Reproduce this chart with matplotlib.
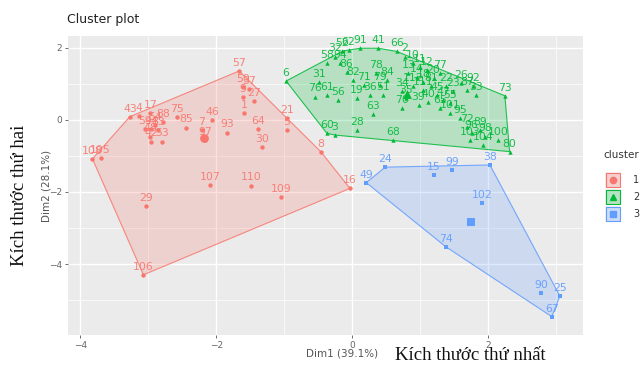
import numpy as np
import matplotlib
matplotlib.use("Agg")
import matplotlib.pyplot as plt
from matplotlib.patches import Polygon, Rectangle
from matplotlib.lines import Line2D

# ---- data: PCA coordinates (Dim1, Dim2) of each observation, by cluster ----
cluster_names = ["1", "2", "3"]
cluster_colors = ["#F8766D", "#00BA38", "#619CFF"]
cluster_markers = ["o", "^", "s"]

c1_labels = [57, 50, 37, 9, 27, 1, 64, 30, 21, 5, 8, 16, 107, 110, 109, 29, 106, 108,
             105, 43, 4, 17, 88, 59, 44, 54, 83, 48, 42, 53, 75, 85, 7, 46, 93, 97]
c1_x = [-1.66, -1.60, -1.51, -1.60, -1.44, -1.59, -1.38, -1.32, -0.96, -0.96, -0.46, -0.03,
        -2.09, -1.49, -1.05, -3.03, -3.07, -3.82, -3.70, -3.27, -3.13, -2.97, -2.78, -3.04,
        -2.96, -2.90, -2.86, -2.97, -2.96, -2.80, -2.57, -2.44, -2.21, -2.06, -1.84, -2.16]
c1_y = [1.36, 0.91, 0.86, 0.63, 0.53, 0.20, -0.24, -0.74, 0.05, -0.28, -0.88, -1.90,
        -1.80, -1.82, -2.15, -2.38, -4.30, -1.08, -1.06, 0.09, 0.11, 0.20, -0.06, -0.26,
        -0.26, -0.14, -0.28, -0.46, -0.60, -0.60, 0.09, -0.21, -0.28, 0.00, -0.35, -0.56]

c2_labels = [6, 76, 61, 56, 19, 36, 51, 58, 32, 52, 62, 91, 41, 66, 2, 10, 11, 12, 13, 14,
             18, 20, 77, 22, 23, 26, 87, 92, 33, 34, 35, 39, 40, 45, 47, 55, 65, 70, 63, 71,
             79, 82, 84, 78, 86, 94, 60, 3, 28, 68, 95, 72, 96, 89, 98, 104, 100, 80, 73, 101,
             103, 31, 111, 112, 81]
c2_x = [-0.97, -0.54, -0.37, -0.20, 0.07, 0.26, 0.46, -0.37, -0.25, -0.15, -0.05, 0.12, 0.39,
        0.66, 0.78, 0.90, 1.00, 1.10, 0.83, 0.95, 1.05, 1.20, 1.29, 1.39, 1.49, 1.61, 1.69,
        1.78, 1.83, 0.73, 0.80, 0.98, 1.12, 1.25, 1.34, 1.44, 1.29, 0.73, 0.31, 0.17, 0.41,
        0.02, 0.51, 0.36, -0.08, -0.18, -0.37, -0.25, 0.07, 0.60, 1.59, 1.69, 1.76, 1.88,
        1.96, 1.93, 2.15, 2.32, 2.25, 1.44, 1.74, -0.48, 1.05, 0.90, 1.17]
c2_y = [1.08, 0.65, 0.69, 0.56, 0.60, 0.69, 0.69, 1.57, 1.76, 1.90, 1.94, 1.99, 1.99,
        1.90, 1.76, 1.57, 1.48, 1.39, 1.30, 1.20, 1.06, 1.16, 1.30, 0.93, 0.79, 1.02, 0.83,
        0.93, 0.69, 0.79, 0.60, 0.42, 0.51, 0.69, 0.56, 0.46, 0.32, 0.32, 0.17, 0.97, 0.97,
        1.11, 1.11, 1.30, 1.34, 1.57, -0.37, -0.42, -0.28, -0.56, 0.05, -0.19, -0.37, -0.28,
        -0.46, -0.69, -0.56, -0.88, 0.67, 0.19, -0.56, 1.06, 0.83, 0.93, 0.93]

c3_labels = [49, 24, 15, 99, 38, 102, 74, 90, 25, 67]
c3_x = [0.21, 0.49, 1.20, 1.47, 2.03, 1.91, 1.38, 2.78, 3.06, 2.94]
c3_y = [-1.74, -1.31, -1.53, -1.39, -1.25, -2.31, -3.52, -4.81, -4.89, -5.46]

x_ticks = [-4, -2, 0, 2]
y_ticks = [2, 0, -2, -4]

title = "Cluster plot"
x_label = "Dim1 (39.1%)"
y_label = "Dim2 (28.1%)"
x_caption = "Kích thước thứ nhất"
y_caption = "Kích thước thứ hai"


def convex_hull(points):
    """Monotone-chain convex hull; returns vertices in order."""
    pts = sorted(set(map(tuple, points)))
    if len(pts) < 3:
        return pts

    def cross(o, a, b):
        return (a[0] - o[0]) * (b[1] - o[1]) - (a[1] - o[1]) * (b[0] - o[0])

    lower, upper = [], []
    for p in pts:
        while len(lower) >= 2 and cross(lower[-2], lower[-1], p) <= 0:
            lower.pop()
        lower.append(p)
    for p in reversed(pts):
        while len(upper) >= 2 and cross(upper[-2], upper[-1], p) <= 0:
            upper.pop()
        upper.append(p)
    return lower[:-1] + upper[:-1]


W, H = 642, 365
fig = plt.figure(figsize=(W / 100, H / 100), dpi=100)
ax = fig.add_axes([68 / W, 1 - 335 / H, (583 - 68) / W, (335 - 36) / H])
ax.set_facecolor("#EBEBEB")
ax.set_xlim(-4.18, 3.40)
ax.set_ylim(-5.97, 2.33)
for s in ax.spines.values():
    s.set_visible(False)

ax.set_xticks(x_ticks)
ax.set_yticks(y_ticks)
ax.set_xticks([-3, -1, 1, 3], minor=True)
ax.set_yticks([1, -1, -3, -5], minor=True)
ax.grid(which="major", color="white", linewidth=1.0)
ax.grid(which="minor", color="white", linewidth=0.5)
ax.set_axisbelow(True)
ax.tick_params(which="major", length=2.5, width=0.6, color="#555555",
               labelsize=6.5, labelcolor="#666666", pad=2)
ax.tick_params(which="minor", length=0)

groups = [(c1_labels, c1_x, c1_y), (c2_labels, c2_x, c2_y), (c3_labels, c3_x, c3_y)]
for (labs, xs, ys), col, mk in zip(groups, cluster_colors, cluster_markers):
    xs = np.asarray(xs)
    ys = np.asarray(ys)
    hull = convex_hull(np.column_stack([xs, ys]))
    ax.add_patch(Polygon(hull, closed=True, facecolor=col, alpha=0.22,
                         edgecolor="none", zorder=1))
    ax.add_patch(Polygon(hull, closed=True, facecolor="none", edgecolor=col,
                         linewidth=0.8, alpha=0.85, zorder=1.5))
    ax.scatter(xs, ys, s=10, marker=mk, color=col, linewidths=0, zorder=3)
    for lab, x, y in zip(labs, xs, ys):
        ax.annotate(str(lab), (x, y), xytext=(0, 2.2), textcoords="offset points",
                    ha="center", va="bottom", fontsize=7.8, color=col, alpha=0.9, zorder=4)
    # cluster centre
    ax.scatter([xs.mean()], [ys.mean()], s=40, marker=mk, color=col,
               linewidths=0, zorder=3)

# titles and axis texts
fig.text(67 / W, 1 - 20 / H, title, fontsize=9, color="#222222", va="center", ha="left")
fig.text(342 / W, 1 - 353 / H, x_label, fontsize=7.5, color="#555555", ha="center", va="center")
fig.text(47 / W, 1 - 186 / H, y_label, fontsize=7.5, color="#555555", ha="center",
         va="center", rotation=90)
fig.text(470 / W, 1 - 355 / H, x_caption, fontsize=13.5, family="Liberation Serif",
         color="#111111", ha="center", va="center")
fig.text(20 / W, 1 - 195 / H, y_caption, fontsize=13.5, family="Liberation Serif",
         color="#111111", ha="center", va="center", rotation=90)

# legend
fig.text(603 / W, 1 - 155 / H, "cluster", fontsize=7.5, color="#333333", ha="left", va="center")
key_top = 172
for i, (name, col, mk) in enumerate(zip(cluster_names, cluster_colors, cluster_markers)):
    y0 = key_top + i * 17
    fig.add_artist(Rectangle((605 / W, 1 - (y0 + 16) / H), 16 / W, 16 / H,
                             transform=fig.transFigure, facecolor="#F2F2F2",
                             edgecolor="none"))
    fig.add_artist(Rectangle((606 / W, 1 - (y0 + 15) / H), 14 / W, 14 / H,
                             transform=fig.transFigure, facecolor=col, alpha=0.25,
                             edgecolor="none"))
    fig.add_artist(Rectangle((606 / W, 1 - (y0 + 15) / H), 14 / W, 14 / H,
                             transform=fig.transFigure, facecolor="none",
                             edgecolor=col, linewidth=0.8))
    fig.add_artist(Line2D([613 / W], [1 - (y0 + 8) / H], marker=mk, markersize=4.5,
                          color=col, linestyle="none", transform=fig.transFigure))
    fig.text(633 / W, 1 - (y0 + 8) / H, name, fontsize=7, color="#333333",
             ha="left", va="center")

fig.savefig("out.png", dpi=100)
